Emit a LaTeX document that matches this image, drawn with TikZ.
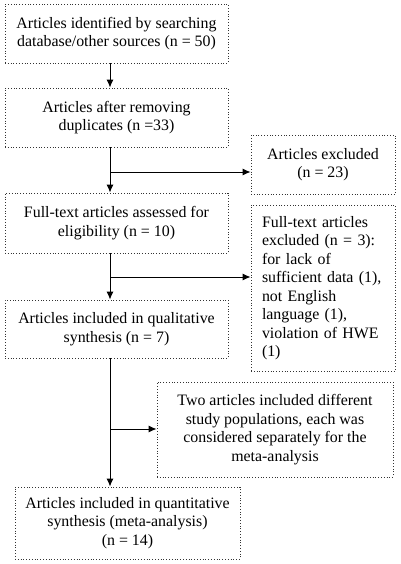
\documentclass[tikz,border=0pt]{standalone}
\usepackage{fontspec}
\setmainfont{Liberation Serif}
\usetikzlibrary{arrows.meta}
\tikzset{
  box/.style={draw=black!80,dotted,line width=0.8pt,align=center,inner sep=0pt,
    font=\fontsize{15.9}{18.5}\selectfont},
  arr/.style={draw=black,line width=1pt,-{Latex[length=8pt,width=7pt]}}
}
\begin{document}
\begin{tikzpicture}[x=1pt,y=-1pt]
\useasboundingbox[fill=white] (0,0) rectangle (400,564);

% main column
\node[box,minimum width=223pt,minimum height=59pt] (ident) at (116.5,33.5)
  {Articles identified by searching\\database/other sources (n = 50)};
\node[box,minimum width=223pt,minimum height=59pt] (dupl) at (116.5,117.5)
  {Articles after removing\\duplicates (n =33)};
\node[box,minimum width=223pt,minimum height=60pt] (full) at (116.5,223)
  {Full-text articles assessed for\\eligibility (n = 10)};
\node[box,minimum width=223pt,minimum height=58pt] (qual) at (116.5,329)
  {Articles included in qualitative\\synthesis (n = 7)};
\node[box,minimum width=225pt,minimum height=72pt] (quant) at (127.5,523)
  {Articles included in quantitative\\synthesis (meta-analysis)\\(n = 14)};

% side boxes
\node[box,minimum width=144pt,minimum height=59pt] (excl) at (323,164.5)
  {Articles excluded\\(n = 23)};
\node[box,minimum width=144pt,minimum height=166pt,align=left,text width=122pt] (fexcl) at (323,288)
  {Full-text articles\\excluded (n = 3):\\for lack of\\sufficient data (1),\\not English\\language (1),\\violation of HWE\\(1)};
\node[box,minimum width=236pt,minimum height=95pt] (twoart) at (275,429.5)
  {Two articles included different\\study populations, each was\\considered separately for the\\meta-analysis};

% spine and branch points
\coordinate (sp) at (110,0);
\coordinate (j1) at (110,172);
\coordinate (j2) at (110,277);
\coordinate (j3) at (110,429);

\draw[arr] (ident.south -| sp) -- (dupl.north -| sp);
\draw[arr] (dupl.south -| sp) -- (full.north -| sp);
\draw[arr] (full.south -| sp) -- (qual.north -| sp);
\draw[arr] (qual.south -| sp) -- (quant.north -| sp);

\draw[arr] (j1) -- (j1 -| excl.west);
\draw[arr] (j2) -- (j2 -| fexcl.west);
\draw[arr] (j3) -- (j3 -| twoart.west);

\end{tikzpicture}
\end{document}
